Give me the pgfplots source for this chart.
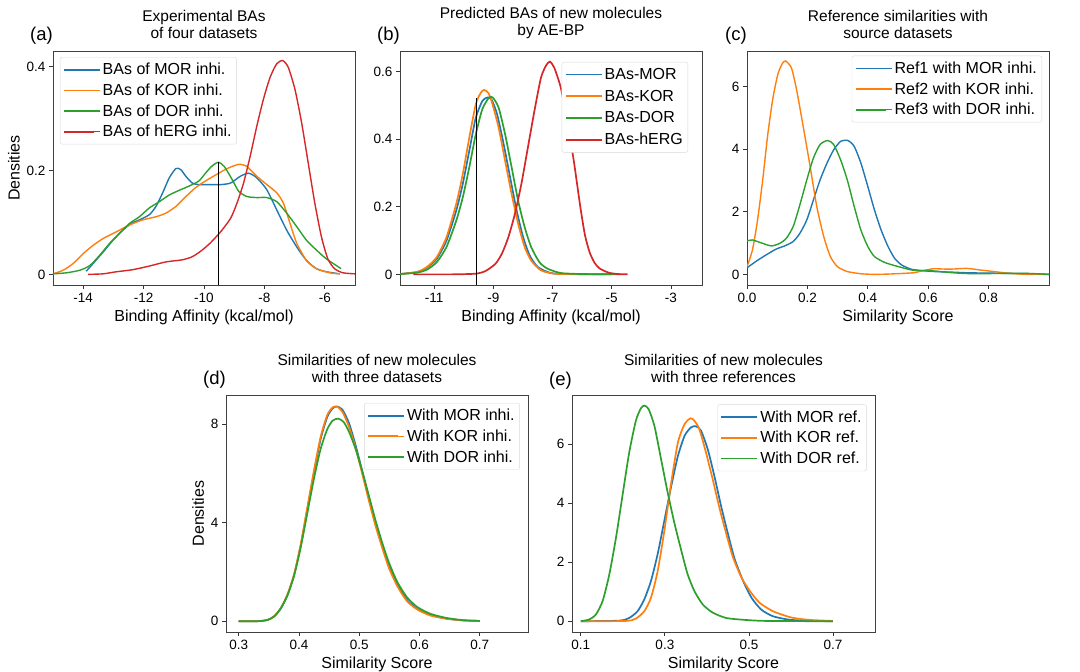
\documentclass[border=0pt]{standalone}
\usepackage{fontspec}
\setmainfont{Liberation Sans}
\usepackage{pgfplots}
\pgfplotsset{compat=1.18}
\definecolor{tblue}{HTML}{1F77B4}
\definecolor{torange}{HTML}{FF7F0E}
\definecolor{tgreen}{HTML}{2CA02C}
\definecolor{tred}{HTML}{D62728}
\tikzset{
  plab/.style={anchor=base east, inner sep=0pt, font=\fontsize{18.5}{20}\selectfont, yshift=10pt},
  ca/.style={smooth, tension=0.4, line width=1.4pt},
  cb/.style={smooth, tension=0.4, line width=1.7pt},
}
\pgfplotsset{
  panel/.style={
    scale only axis,
    clip mode=individual,
    axis line style={black!75, line width=0.9pt},
    tick align=outside,
    xtick pos=bottom, ytick pos=left,
    major tick length=4pt,
    tick style={black!80, line width=0.8pt},
    ticklabel style={font=\fontsize{13.5}{15}\selectfont},
    xticklabel style={yshift=-1pt},
    /pgf/number format/assume math mode=true,
    label style={font=\fontsize{16}{18}\selectfont},
    title style={font=\fontsize{15.5}{16.5}\selectfont, align=center, anchor=south, at={(0.5,1)}, yshift=3pt},
    legend style={font=\fontsize{16}{19}\selectfont, draw=black!15, rounded corners=2pt, fill=white, inner xsep=3pt, inner ysep=4pt, row sep=3.5pt},
    legend cell align=left,
    legend image code/.code={\path (0pt,0pt) -- (36pt,0pt); \draw[#1, line width=1.8pt] (0pt,0pt) -- (30pt,0pt);},
  },
}
\begin{document}
\begin{tikzpicture}
\path[use as bounding box] (0pt,0pt) rectangle (1080pt,672pt);

% (a)
\begin{axis}[panel, at={(53pt,387pt)}, anchor=south west, width=302pt, height=234pt,
  xmin=-15, xmax=-5, ymin=-0.0205, ymax=0.4305,
  xtick={-14,-12,-10,-8,-6}, xticklabels={-14,-12,-10,-8,-6},
  ytick={0,0.2,0.4}, yticklabels={0,0.2,0.4},
  xlabel={Binding Affinity (kcal/mol)}, ylabel={Densities},
  title={Experimental BAs\\of four datasets},
  legend style={at={(0.023,0.974)}, anchor=north west}]
\addplot[tblue, ca] coordinates {(-13.9,0.006) (-13.67,0.021) (-13.34,0.043) (-13.01,0.066) (-12.69,0.085) (-12.41,0.098) (-12.14,0.105) (-11.81,0.115) (-11.59,0.131) (-11.37,0.157) (-11.15,0.186) (-10.93,0.204) (-10.77,0.202) (-10.6,0.189) (-10.39,0.176) (-10.17,0.173) (-9.84,0.173) (-9.45,0.173) (-9.12,0.176) (-8.8,0.189) (-8.52,0.195) (-8.25,0.186) (-7.92,0.163) (-7.59,0.124) (-7.26,0.085) (-6.93,0.053) (-6.61,0.027) (-6.28,0.011) (-5.95,0.005) (-5.51,0.001)};
\addlegendentry{BAs of MOR inhi.}
\addplot[torange, ca] coordinates {(-15.0,0.001) (-14.66,0.008) (-14.33,0.021) (-14.0,0.040) (-13.67,0.056) (-13.34,0.069) (-12.9,0.082) (-12.47,0.095) (-12.03,0.105) (-11.59,0.111) (-11.26,0.118) (-10.93,0.131) (-10.6,0.150) (-10.28,0.167) (-9.95,0.180) (-9.6,0.192) (-9.23,0.204) (-8.85,0.212) (-8.58,0.208) (-8.25,0.189) (-7.92,0.173) (-7.59,0.157) (-7.37,0.137) (-7.15,0.098) (-6.93,0.060) (-6.61,0.027) (-6.28,0.011) (-5.84,0.003) (-5.51,0.001)};
\addlegendentry{BAs of KOR inhi.}
\addplot[tgreen, ca] coordinates {(-15.0,0.001) (-14.55,0.003) (-14.11,0.008) (-13.78,0.017) (-13.45,0.037) (-13.12,0.060) (-12.8,0.079) (-12.47,0.098) (-12.14,0.111) (-11.81,0.128) (-11.48,0.140) (-11.15,0.153) (-10.82,0.162) (-10.5,0.170) (-10.17,0.180) (-9.95,0.195) (-9.75,0.208) (-9.53,0.216) (-9.33,0.208) (-9.07,0.183) (-8.85,0.160) (-8.58,0.150) (-8.25,0.148) (-7.92,0.148) (-7.59,0.140) (-7.26,0.118) (-6.93,0.092) (-6.61,0.066) (-6.28,0.047) (-5.95,0.030) (-5.46,0.011)};
\addlegendentry{BAs of DOR inhi.}
\addplot[tred, ca] coordinates {(-13.84,0.0) (-13.34,0.001) (-12.9,0.005) (-12.36,0.009) (-11.81,0.016) (-11.26,0.024) (-10.72,0.028) (-10.39,0.034) (-10.1,0.045) (-9.8,0.060) (-9.45,0.082) (-9.12,0.108) (-8.91,0.137) (-8.69,0.176) (-8.47,0.228) (-8.25,0.286) (-8.03,0.338) (-7.81,0.380) (-7.59,0.406) (-7.39,0.412) (-7.21,0.399) (-6.99,0.357) (-6.77,0.293) (-6.55,0.215) (-6.33,0.137) (-6.11,0.072) (-5.9,0.030) (-5.68,0.011) (-5.4,0.003) (-5.0,0.001)};
\addlegendentry{BAs of hERG inhi.}
\addplot[black, line width=1.2pt, forget plot] coordinates {(-9.51,-0.0205) (-9.51,0.216)};
\node[plab] at (axis description cs:0,1) {(a)};
\end{axis}

% (b)
\begin{axis}[panel, at={(400pt,387pt)}, anchor=south west, width=302pt, height=234pt,
  xmin=-12.15, xmax=-1.95, ymin=-0.0315, ymax=0.6615,
  xtick={-11,-9,-7,-5,-3}, xticklabels={-11,-9,-7,-5,-3},
  ytick={0,0.2,0.4,0.6}, yticklabels={0,0.2,0.4,0.6},
  xlabel={Binding Affinity (kcal/mol)},
  title={Predicted BAs of new molecules\\by AE-BP},
  legend style={at={(0.954,0.953)}, anchor=north east, row sep=5pt}]
\addplot[tblue, cb] coordinates {(-12.15,0.001) (-11.57,0.007) (-11.24,0.020) (-10.91,0.046) (-10.58,0.100) (-10.25,0.189) (-10.03,0.268) (-9.81,0.366) (-9.59,0.464) (-9.37,0.513) (-9.2,0.524) (-9.06,0.518) (-8.87,0.474) (-8.65,0.386) (-8.43,0.287) (-8.21,0.189) (-7.99,0.110) (-7.77,0.056) (-7.5,0.022) (-7.06,0.004) (-6.5,0.001) (-5.0,0)};
\addlegendentry{BAs-MOR}
\addplot[torange, cb] coordinates {(-12.15,0.001) (-11.57,0.007) (-11.24,0.022) (-10.91,0.051) (-10.58,0.110) (-10.25,0.209) (-10.03,0.297) (-9.81,0.405) (-9.59,0.504) (-9.42,0.538) (-9.31,0.546) (-9.17,0.538) (-9.04,0.508) (-8.82,0.435) (-8.6,0.336) (-8.38,0.238) (-8.16,0.150) (-7.94,0.081) (-7.72,0.041) (-7.39,0.012) (-6.94,0.002) (-6.0,0) (-5.2,0)};
\addlegendentry{BAs-KOR}
\addplot[tgreen, cb] coordinates {(-12.15,0.001) (-11.57,0.005) (-11.24,0.014) (-10.91,0.036) (-10.58,0.081) (-10.25,0.159) (-10.03,0.228) (-9.81,0.317) (-9.59,0.415) (-9.37,0.489) (-9.15,0.523) (-9.02,0.524) (-8.82,0.494) (-8.6,0.415) (-8.38,0.317) (-8.16,0.218) (-7.94,0.140) (-7.72,0.081) (-7.44,0.036) (-7.17,0.017) (-6.72,0.004) (-6.0,0.001) (-4.7,0)};
\addlegendentry{BAs-DOR}
\addplot[tred, cb] coordinates {(-11.7,0) (-10.4,0) (-9.59,0.002) (-9.26,0.010) (-8.93,0.031) (-8.71,0.061) (-8.49,0.110) (-8.27,0.179) (-8.05,0.268) (-7.83,0.376) (-7.61,0.484) (-7.39,0.582) (-7.22,0.618) (-7.09,0.630) (-6.94,0.612) (-6.72,0.553) (-6.5,0.454) (-6.28,0.336) (-6.06,0.200) (-5.9,0.115) (-5.74,0.064) (-5.57,0.033) (-5.4,0.017) (-5.1,0.005) (-4.8,0.001) (-4.46,0)};
\addlegendentry{BAs-hERG}
\addplot[black, line width=1.2pt, forget plot] coordinates {(-9.57,-0.0315) (-9.57,0.521)};
\node[plab] at (axis description cs:0,1) {(b)};
\end{axis}

% (c)
\begin{axis}[panel, at={(747pt,387pt)}, anchor=south west, width=302pt, height=234pt,
  xmin=0, xmax=1.0, ymin=-0.34, ymax=7.14,
  xtick={0,0.2,0.4,0.6,0.8}, xticklabels={0.0,0.2,0.4,0.6,0.8},
  ytick={0,2,4,6}, yticklabels={0,2,4,6},
  xlabel={Similarity Score},
  title={Reference similarities with\\source datasets},
  legend style={at={(0.977,0.98)}, anchor=north east}]
\addplot[tblue, ca] coordinates {(0,0.21) (0.029,0.41) (0.063,0.62) (0.097,0.81) (0.125,0.91) (0.153,1.05) (0.175,1.31) (0.198,1.74) (0.22,2.38) (0.242,3.02) (0.265,3.56) (0.287,3.98) (0.31,4.25) (0.334,4.28) (0.355,4.09) (0.377,3.56) (0.4,2.81) (0.422,2.06) (0.444,1.42) (0.467,0.89) (0.489,0.51) (0.512,0.30) (0.545,0.16) (0.58,0.12) (0.62,0.09) (0.68,0.07) (0.73,0.05) (0.8,0.04) (0.87,0.03) (0.94,0.02) (1.0,0.0)};
\addlegendentry{Ref1 with MOR inhi.}
\addplot[torange, ca] coordinates {(0,0.25) (0.018,0.78) (0.035,1.74) (0.052,3.02) (0.068,4.41) (0.085,5.59) (0.102,6.39) (0.117,6.74) (0.128,6.82) (0.147,6.60) (0.164,5.91) (0.186,4.73) (0.209,3.45) (0.231,2.17) (0.254,1.21) (0.276,0.57) (0.299,0.25) (0.332,0.09) (0.377,0.02) (0.42,0.0) (0.47,0.01) (0.55,0.05) (0.583,0.12) (0.617,0.18) (0.65,0.17) (0.683,0.17) (0.728,0.19) (0.772,0.14) (0.817,0.09) (0.872,0.03) (0.93,0.0) (1.0,0.0)};
\addlegendentry{Ref2 with KOR inhi.}
\addplot[tgreen, ca] coordinates {(0,1.07) (0.018,1.10) (0.04,1.03) (0.08,0.91) (0.108,0.99) (0.13,1.15) (0.153,1.53) (0.175,2.22) (0.198,3.02) (0.22,3.72) (0.242,4.15) (0.267,4.28) (0.287,4.15) (0.31,3.66) (0.332,3.02) (0.355,2.17) (0.377,1.42) (0.4,0.89) (0.422,0.57) (0.456,0.38) (0.5,0.25) (0.545,0.14) (0.58,0.12) (0.617,0.11) (0.683,0.05) (0.75,0.02) (0.84,0.03) (0.928,0.03) (1.0,0.0)};
\addlegendentry{Ref3 with DOR inhi.}
\node[plab] at (axis description cs:0,1) {(c)};
\end{axis}

% (d)
\begin{axis}[panel, at={(226pt,40pt)}, anchor=south west, width=302pt, height=237pt,
  xmin=0.279, xmax=0.78, ymin=-0.44, ymax=9.19,
  xtick={0.3,0.4,0.5,0.6,0.7}, xticklabels={0.3,0.4,0.5,0.6,0.7},
  ytick={0,4,8}, yticklabels={0,4,8},
  xlabel={Similarity Score}, ylabel={Densities},
  title={Similarities of new molecules\\with three datasets},
  legend style={at={(0.973,0.966)}, anchor=north east}]
\addplot[tblue, cb] coordinates {(0.3,0) (0.332,0) (0.348,0.05) (0.359,0.19) (0.37,0.52) (0.381,1.06) (0.392,1.88) (0.403,3.08) (0.414,4.56) (0.425,6.05) (0.436,7.4) (0.447,8.3) (0.456,8.65) (0.463,8.72) (0.472,8.6) (0.483,8.05) (0.494,7.15) (0.505,6.1) (0.516,5.0) (0.527,3.95) (0.538,3.05) (0.549,2.25) (0.563,1.5) (0.579,0.87) (0.596,0.5) (0.618,0.25) (0.645,0.1) (0.673,0.03) (0.7,0.01)};
\addlegendentry{With MOR inhi.}
\addplot[torange, cb] coordinates {(0.3,0) (0.332,0) (0.348,0.05) (0.359,0.2) (0.37,0.54) (0.381,1.09) (0.392,1.91) (0.403,3.13) (0.414,4.63) (0.425,6.13) (0.436,7.49) (0.447,8.38) (0.456,8.69) (0.463,8.72) (0.472,8.51) (0.483,7.9) (0.494,7.02) (0.505,5.99) (0.516,4.9) (0.527,3.88) (0.538,3.0) (0.549,2.18) (0.563,1.43) (0.579,0.82) (0.596,0.48) (0.618,0.23) (0.645,0.1) (0.673,0.03) (0.7,0.01)};
\addlegendentry{With KOR inhi.}
\addplot[tgreen, cb] coordinates {(0.3,0) (0.332,0) (0.348,0.05) (0.359,0.2) (0.37,0.52) (0.381,1.05) (0.392,1.85) (0.403,3.0) (0.414,4.4) (0.425,5.8) (0.436,7.0) (0.447,7.8) (0.456,8.15) (0.465,8.23) (0.474,8.1) (0.483,7.7) (0.494,7.0) (0.505,6.1) (0.516,5.1) (0.527,4.1) (0.538,3.2) (0.549,2.4) (0.563,1.6) (0.579,0.98) (0.596,0.58) (0.618,0.3) (0.645,0.13) (0.673,0.04) (0.7,0.01)};
\addlegendentry{With DOR inhi.}
\node[plab] at (axis description cs:0,1) {(d)};
\end{axis}

% (e)
\begin{axis}[panel, at={(572pt,40pt)}, anchor=south west, width=303pt, height=237pt,
  xmin=0.079, xmax=0.80, ymin=-0.365, ymax=7.67,
  xtick={0.1,0.3,0.5,0.7}, xticklabels={0.1,0.3,0.5,0.7},
  ytick={0,2,4,6}, yticklabels={0,2,4,6},
  xlabel={Similarity Score},
  title={Similarities of new molecules\\with three references},
  legend style={at={(0.973,0.96)}, anchor=north east}]
\addplot[tblue, cb] coordinates {(0.1,0) (0.191,0.02) (0.215,0.11) (0.235,0.34) (0.251,0.74) (0.267,1.37) (0.283,2.29) (0.299,3.43) (0.315,4.57) (0.331,5.6) (0.347,6.29) (0.362,6.57) (0.374,6.61) (0.386,6.46) (0.402,5.83) (0.418,4.91) (0.434,3.89) (0.45,2.97) (0.466,2.11) (0.486,1.37) (0.506,0.8) (0.529,0.4) (0.557,0.17) (0.597,0.05) (0.65,0.01) (0.7,0)};
\addlegendentry{With MOR ref.}
\addplot[torange, cb] coordinates {(0.1,0) (0.207,0.01) (0.231,0.09) (0.251,0.34) (0.267,0.8) (0.283,1.71) (0.299,3.09) (0.315,4.69) (0.331,6.06) (0.347,6.69) (0.361,6.88) (0.37,6.8) (0.382,6.51) (0.398,5.71) (0.414,4.8) (0.43,3.83) (0.446,2.97) (0.462,2.17) (0.482,1.49) (0.502,1.03) (0.525,0.63) (0.557,0.34) (0.597,0.14) (0.621,0.08) (0.65,0.04) (0.7,0.01)};
\addlegendentry{With KOR ref.}
\addplot[tgreen, cb] coordinates {(0.1,0) (0.12,0.06) (0.136,0.23) (0.152,0.69) (0.168,1.6) (0.184,2.86) (0.2,4.34) (0.215,5.71) (0.231,6.8) (0.243,7.22) (0.251,7.31) (0.261,7.2) (0.275,6.63) (0.291,5.49) (0.307,4.34) (0.323,3.31) (0.339,2.4) (0.354,1.6) (0.37,1.03) (0.39,0.57) (0.414,0.29) (0.446,0.11) (0.486,0.05) (0.541,0.01) (0.7,0)};
\addlegendentry{With DOR ref.}
\node[plab] at (axis description cs:0,1) {(e)};
\end{axis}
\end{tikzpicture}
\end{document}
